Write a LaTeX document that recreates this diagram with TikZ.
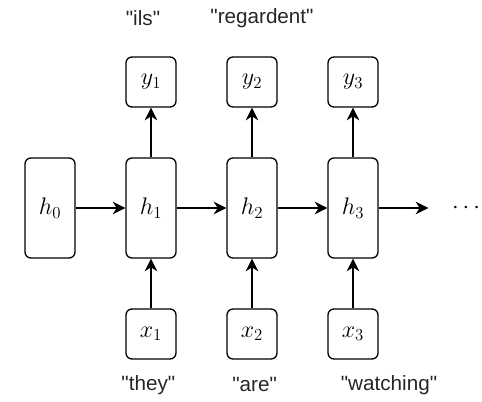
\documentclass[tikz,border=0pt]{standalone}
\usepackage{fix-cm}
\usepackage{fontspec}
\setmainfont{Liberation Sans}[Ligatures=TeXOff]
\usetikzlibrary{arrows.meta,positioning}

\begin{document}
\begin{tikzpicture}[x=0.75pt,y=-0.75pt,node distance=94.5pt and 75.75pt,on grid,
    line width=1pt,>={Stealth[length=9.5pt,width=9.5pt,inset=3pt]},
    cell/.style={draw,rounded corners=4.5pt,minimum width=37.5pt,minimum height=75pt,
                 font=\fontsize{18}{21}\selectfont},
    io/.style={cell,minimum height=37.5pt},
    word/.style={font=\fontsize{15.5}{18}\selectfont,text=black!85}]
    \useasboundingbox (0,0) rectangle (482,402);

    \node[cell]  (h0) at (50,208)      {$h_0$};
    \node[cell]  (h1) [right=of h0]    {$h_1$};
    \node[cell]  (h2) [right=of h1]    {$h_2$};
    \node[cell]  (h3) [right=of h2]    {$h_3$};
    \node[minimum width=55.5pt,font=\fontsize{18}{21}\selectfont]
                 (dots) [right=84.75pt of h3] {$\cdots$};

    \node[io]    (y1) [above=of h1]    {$y_1$};
    \node[io]    (y2) [above=of h2]    {$y_2$};
    \node[io]    (y3) [above=of h3]    {$y_3$};
    \node[io]    (x1) [below=of h1]    {$x_1$};
    \node[io]    (x2) [below=of h2]    {$x_2$};
    \node[io]    (x3) [below=of h3]    {$x_3$};

    % words above and below the cells
    \node[word]  (ils)  [above=48pt of y1,xshift=-6pt]  {"ils"};
    \node[word]  (reg)  [above=48pt of y2,xshift=7.5pt] {"regardent"};
    \node[word]  (they) [below=38pt of x1,xshift=-2pt]  {"they"};
    \node[word]  (are)  [below=38pt of x2,xshift=2pt]   {"are"};
    \node[word]  (wat)  [below=38pt of x3,xshift=27pt]  {"watching"};

    \path[->] (h0) edge (h1)
              (h1) edge (h2)
              (h2) edge (h3)
              (h3) edge (dots)
              (x1) edge (h1)
              (x2) edge (h2)
              (x3) edge (h3)
              (h1) edge (y1)
              (h2) edge (y2)
              (h3) edge (y3);
\end{tikzpicture}
\end{document}
